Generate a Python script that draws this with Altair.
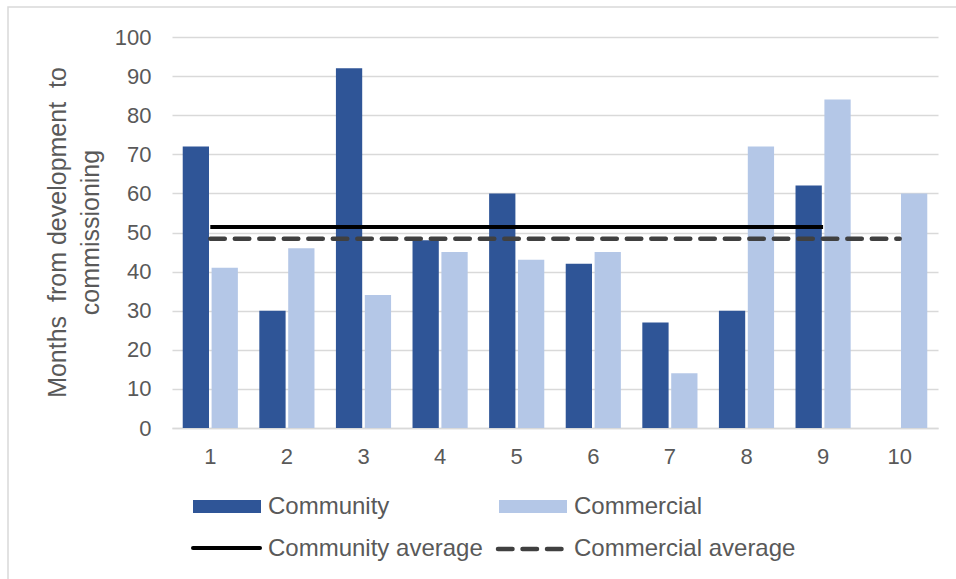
import altair as alt
import pandas as pd

# ---- data ----
categories = ["1", "2", "3", "4", "5", "6", "7", "8", "9", "10"]
series_names = ["Community", "Commercial"]
community = [72, 30, 92, 48, 60, 42, 27, 30, 62, None]
commercial = [41, 46, 34, 45, 43, 45, 14, 72, 84, 60]
community_average = [51.4, 51.4, 51.4, 51.4, 51.4, 51.4, 51.4, 51.4, 51.4, None]
commercial_average = [48.4, 48.4, 48.4, 48.4, 48.4, 48.4, 48.4, 48.4, 48.4, 48.4]
y_ticks = [0, 10, 20, 30, 40, 50, 60, 70, 80, 90, 100]
y_title = ["Months\u00a0 from development\u00a0 to", "commissioning"]
avg_names = ["Community average", "Commercial average"]

BAR_COLORS = ["#2F5597", "#B4C7E7"]
TEXT = "#595959"
FONT = "Liberation Sans"

rows = []
for name, vals in zip(series_names, [community, commercial]):
    for c, v in zip(categories, vals):
        if v is not None:
            rows.append({"cat": c, "series": name, "value": v})
bars_df = pd.DataFrame(rows)

comm_avg_df = pd.DataFrame(
    [{"cat": c, "value": v} for c, v in zip(categories, community_average) if v is not None]
)
com_avg_df = pd.DataFrame(
    [{"cat": c, "value": v} for c, v in zip(categories, commercial_average) if v is not None]
)

x_enc = alt.X(
    "cat:N",
    sort=categories,
    title=None,
    scale=alt.Scale(paddingInner=0.28, paddingOuter=0.14),
)
y_enc = alt.Y(
    "value:Q",
    title=y_title,
    scale=alt.Scale(domain=[0, 100], nice=False),
    axis=alt.Axis(values=y_ticks),
)

bars = alt.Chart(bars_df).mark_bar().encode(
    x=x_enc,
    xOffset=alt.XOffset("series:N", sort=series_names, scale=alt.Scale(paddingInner=0.09)),
    y=y_enc,
    color=alt.Color(
        "series:N",
        scale=alt.Scale(domain=series_names, range=BAR_COLORS),
        legend=None,
    ),
)

comm_line = alt.Chart(comm_avg_df).mark_line(
    color="#000000", strokeWidth=4
).encode(x=x_enc, y=y_enc)

com_line = alt.Chart(com_avg_df).mark_line(
    color="#404040", strokeWidth=4.5, strokeDash=[14.5, 10], strokeCap="round"
).encode(x=x_enc, y=y_enc)

one = alt.Data(values=[{"k": 1}])

# border of the chart area (top and left visible)
border = alt.Chart(one).mark_rect(
    fillOpacity=0, stroke="#D9D9D9", strokeWidth=1.5
).encode(
    x=alt.value(-164), x2=alt.value(820), y=alt.value(-30), y2=alt.value(600)
)

# ---- legend (bottom, two rows) ----
leg = []
leg.append(alt.Chart(one).mark_rect(color=BAR_COLORS[0]).encode(
    x=alt.value(21), x2=alt.value(89), y=alt.value(463), y2=alt.value(476)))
leg.append(alt.Chart(one).mark_rect(color=BAR_COLORS[1]).encode(
    x=alt.value(327), x2=alt.value(395), y=alt.value(463), y2=alt.value(476)))
leg.append(alt.Chart(one).mark_rule(color="#000000", strokeWidth=4, strokeCap="round").encode(
    x=alt.value(21), x2=alt.value(88), y=alt.value(511)))
leg.append(alt.Chart(one).mark_rule(color="#404040", strokeWidth=4.5, strokeCap="round",
                                    strokeDash=[14.5, 10]).encode(
    x=alt.value(326), x2=alt.value(391), y=alt.value(512)))

text_style = dict(align="left", baseline="middle", font=FONT, fontSize=24, color=TEXT)
leg.append(alt.Chart(one).mark_text(**text_style).encode(
    x=alt.value(96), y=alt.value(470), text=alt.value(series_names[0])))
leg.append(alt.Chart(one).mark_text(**text_style).encode(
    x=alt.value(402), y=alt.value(470), text=alt.value(series_names[1])))
leg.append(alt.Chart(one).mark_text(**text_style).encode(
    x=alt.value(96), y=alt.value(512), text=alt.value(avg_names[0])))
leg.append(alt.Chart(one).mark_text(**text_style).encode(
    x=alt.value(402), y=alt.value(512), text=alt.value(avg_names[1])))

chart = alt.layer(border, bars, comm_line, com_line, *leg).properties(
    width=766,
    height=391,
    autosize=alt.AutoSizeParams(type="none"),
    padding={"left": 172, "top": 37, "right": 18, "bottom": 151},
    background="#FFFFFF",
).configure_view(
    stroke=None
).configure_axisY(
    domain=False,
    ticks=False,
    grid=True,
    gridColor="#D9D9D9",
    gridWidth=1.3,
    labelFont=FONT,
    labelFontSize=22,
    labelColor=TEXT,
    labelPadding=21,
    titleFont=FONT,
    titleFontSize=25,
    titleFontWeight="normal",
    titleColor=TEXT,
    titleAngle=270,
    titleAlign="center",
    titleBaseline="alphabetic",
    titleX=-107,
    titleY=195,
    titleLineHeight=33,
).configure_axisX(
    domain=True,
    domainColor="#D9D9D9",
    domainWidth=1.5,
    ticks=False,
    grid=False,
    labelAngle=0,
    labelPadding=18,
    labelFont=FONT,
    labelFontSize=22,
    labelColor=TEXT,
)

chart.save("out.html", embed_options={"renderer": "svg", "actions": False})
